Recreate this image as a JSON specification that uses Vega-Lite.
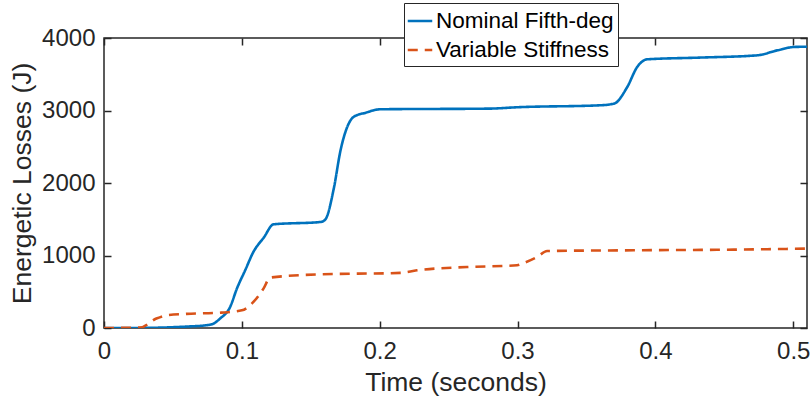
{
  "$schema": "https://vega.github.io/schema/vega-lite/v6.json",
  "width": 703,
  "height": 290,
  "autosize": {"type": "none"},
  "padding": {"left": 104, "top": 38, "right": 5, "bottom": 78},
  "background": "white",
  "config": {
    "font": "Liberation Sans",
    "view": {"stroke": "#262626", "strokeWidth": 1.5},
    "axis": {"grid": false, "domain": false, "tickColor": "#262626", "tickSize": -7, "tickWidth": 1.5, "labelColor": "#262626", "titleColor": "#262626", "labelFontSize": 24, "titleFontSize": 26.5, "titleFontWeight": "normal", "labelFont": "Liberation Sans", "titleFont": "Liberation Sans"}
  },
  "datasets": {
    "d": [
      {"t": 0, "E": 0, "s": "Nominal Fifth-deg"},
      {"t": 0.02, "E": 0, "s": "Nominal Fifth-deg"},
      {"t": 0.04, "E": 5, "s": "Nominal Fifth-deg"},
      {"t": 0.06, "E": 20, "s": "Nominal Fifth-deg"},
      {"t": 0.075, "E": 40, "s": "Nominal Fifth-deg"},
      {"t": 0.0794, "E": 60, "s": "Nominal Fifth-deg"},
      {"t": 0.0842, "E": 130, "s": "Nominal Fifth-deg"},
      {"t": 0.0915, "E": 290, "s": "Nominal Fifth-deg"},
      {"t": 0.0964, "E": 543, "s": "Nominal Fifth-deg"},
      {"t": 0.1025, "E": 800, "s": "Nominal Fifth-deg"},
      {"t": 0.1084, "E": 1050, "s": "Nominal Fifth-deg"},
      {"t": 0.116, "E": 1250, "s": "Nominal Fifth-deg"},
      {"t": 0.123, "E": 1430, "s": "Nominal Fifth-deg"},
      {"t": 0.157, "E": 1462, "s": "Nominal Fifth-deg"},
      {"t": 0.1605, "E": 1495, "s": "Nominal Fifth-deg"},
      {"t": 0.1667, "E": 1923, "s": "Nominal Fifth-deg"},
      {"t": 0.1716, "E": 2451, "s": "Nominal Fifth-deg"},
      {"t": 0.176, "E": 2750, "s": "Nominal Fifth-deg"},
      {"t": 0.181, "E": 2910, "s": "Nominal Fifth-deg"},
      {"t": 0.19, "E": 2970, "s": "Nominal Fifth-deg"},
      {"t": 0.2004, "E": 3017, "s": "Nominal Fifth-deg"},
      {"t": 0.28, "E": 3026, "s": "Nominal Fifth-deg"},
      {"t": 0.30, "E": 3045, "s": "Nominal Fifth-deg"},
      {"t": 0.36, "E": 3072, "s": "Nominal Fifth-deg"},
      {"t": 0.37, "E": 3095, "s": "Nominal Fifth-deg"},
      {"t": 0.3796, "E": 3324, "s": "Nominal Fifth-deg"},
      {"t": 0.3868, "E": 3600, "s": "Nominal Fifth-deg"},
      {"t": 0.3941, "E": 3706, "s": "Nominal Fifth-deg"},
      {"t": 0.4328, "E": 3730, "s": "Nominal Fifth-deg"},
      {"t": 0.474, "E": 3761, "s": "Nominal Fifth-deg"},
      {"t": 0.4885, "E": 3830, "s": "Nominal Fifth-deg"},
      {"t": 0.5006, "E": 3876, "s": "Nominal Fifth-deg"},
      {"t": 0.51, "E": 3880, "s": "Nominal Fifth-deg"},
      {"t": 0, "E": 0, "s": "Variable Stiffness"},
      {"t": 0.026, "E": 5, "s": "Variable Stiffness"},
      {"t": 0.038, "E": 130, "s": "Variable Stiffness"},
      {"t": 0.0455, "E": 175, "s": "Variable Stiffness"},
      {"t": 0.06, "E": 195, "s": "Variable Stiffness"},
      {"t": 0.085, "E": 212, "s": "Variable Stiffness"},
      {"t": 0.1, "E": 244, "s": "Variable Stiffness"},
      {"t": 0.1084, "E": 359, "s": "Variable Stiffness"},
      {"t": 0.1157, "E": 543, "s": "Variable Stiffness"},
      {"t": 0.1205, "E": 695, "s": "Variable Stiffness"},
      {"t": 0.157, "E": 740, "s": "Variable Stiffness"},
      {"t": 0.215, "E": 760, "s": "Variable Stiffness"},
      {"t": 0.227, "E": 796, "s": "Variable Stiffness"},
      {"t": 0.2634, "E": 841, "s": "Variable Stiffness"},
      {"t": 0.2997, "E": 865, "s": "Variable Stiffness"},
      {"t": 0.3045, "E": 897, "s": "Variable Stiffness"},
      {"t": 0.3142, "E": 979, "s": "Variable Stiffness"},
      {"t": 0.3215, "E": 1062, "s": "Variable Stiffness"},
      {"t": 0.3844, "E": 1072, "s": "Variable Stiffness"},
      {"t": 0.457, "E": 1081, "s": "Variable Stiffness"},
      {"t": 0.51, "E": 1095, "s": "Variable Stiffness"}
    ]
  },
  "data": {"name": "d"},
  "resolve": {"axis": {"x": "independent", "y": "independent"}},
  "layer": [
    {
      "mark": {"type": "line", "strokeWidth": 2.6, "clip": true, "interpolate": "monotone"},
      "encoding": {
        "x": {"field": "t", "type": "quantitative", "scale": {"domain": [0, 0.51], "nice": false, "zero": false},
          "axis": {"title": "Time (seconds)", "values": [0, 0.1, 0.2, 0.3, 0.4, 0.5], "format": "~g", "labelPadding": 18, "titlePadding": 6, "labelFlush": false}},
        "y": {"field": "E", "type": "quantitative", "scale": {"domain": [0, 4000], "nice": false},
          "axis": {"title": "Energetic Losses (J)", "values": [0, 1000, 2000, 3000, 4000], "format": "d", "labelPadding": 16, "titlePadding": 5, "labelFlush": false}},
        "color": {"field": "s", "type": "nominal", "title": null,
          "scale": {"domain": ["Nominal Fifth-deg", "Variable Stiffness"], "range": ["#0072BD", "#D95319"]},
          "legend": {"orient": "none", "legendX": 300, "legendY": -35, "direction": "vertical", "symbolType": "stroke", "symbolSize": 600, "symbolStrokeWidth": 2.6, "labelFontSize": 22.5, "labelLimit": 400, "labelColor": "#000000", "labelFont": "Liberation Sans", "strokeColor": "#262626", "fillColor": "white", "padding": 4, "rowPadding": 3, "labelOffset": 2, "symbolOffset": -2}},
        "strokeDash": {"field": "s", "type": "nominal", "title": null,
          "scale": {"domain": ["Nominal Fifth-deg", "Variable Stiffness"], "range": [[1, 0], [10, 7]]}}
      }
    },
    {
      "mark": {"type": "rule", "opacity": 0},
      "encoding": {
        "x": {"field": "t", "type": "quantitative", "aggregate": "min", "axis": {"orient": "top", "title": null, "labels": false, "values": [0, 0.1, 0.2, 0.3, 0.4, 0.5]}},
        "y": {"field": "E", "type": "quantitative", "aggregate": "min", "axis": {"orient": "right", "title": null, "labels": false, "values": [0, 1000, 2000, 3000, 4000]}}
      }
    }
  ]
}
